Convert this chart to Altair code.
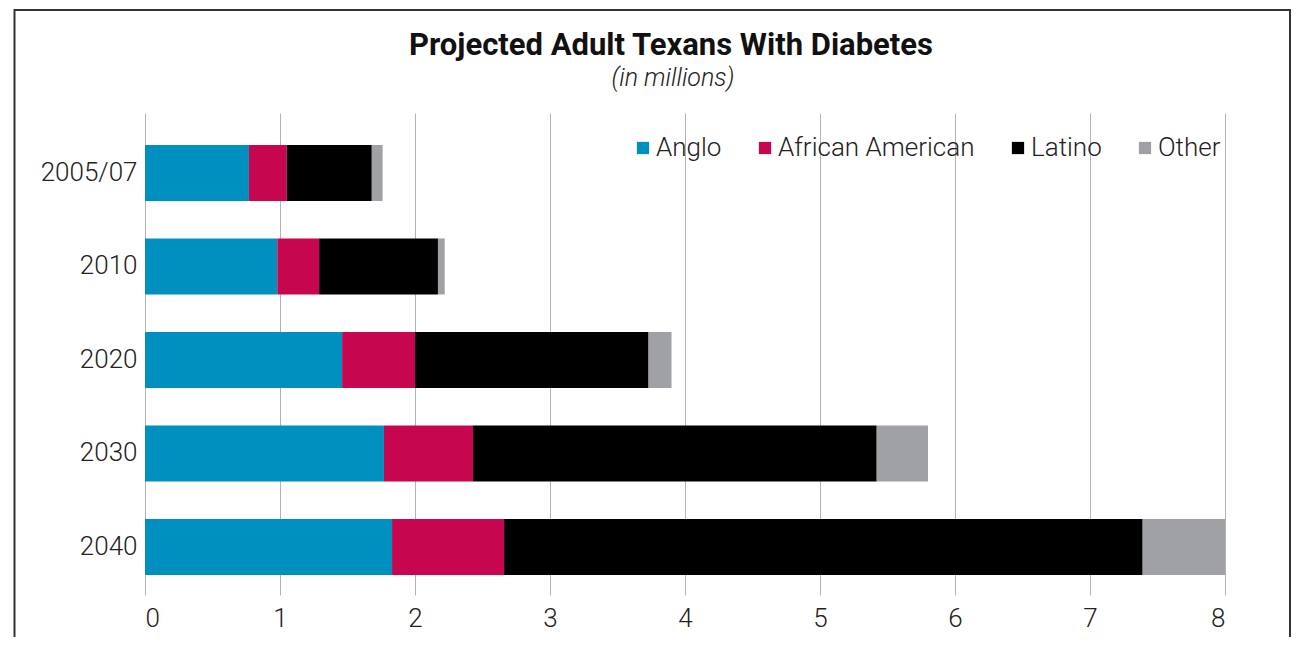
import altair as alt
import pandas as pd

years = ["2005/07", "2010", "2020", "2030", "2040"]
groups = ["Anglo", "African American", "Latino", "Other"]
colors = ["#0090c0", "#c6074f", "#000000", "#a0a1a5"]
anglo = [0.77, 0.98, 1.46, 1.77, 1.83]
african_american = [0.28, 0.31, 0.54, 0.66, 0.83]
latino = [0.63, 0.88, 1.73, 2.99, 4.73]
other = [0.08, 0.05, 0.17, 0.38, 0.61]
title_text = "Projected Adult Texans With Diabetes"
subtitle_text = "(in millions)"

series = [anglo, african_american, latino, other]
rows = []
for gi, (g, vals) in enumerate(zip(groups, series)):
    for y, v in zip(years, vals):
        rows.append({"year": y, "group": g, "value": v, "order": gi})
df = pd.DataFrame(rows)

FONT = "Roboto"

bars = alt.Chart(df).mark_bar().encode(
    x=alt.X("value:Q", scale=alt.Scale(domain=[0, 8], nice=False),
            axis=alt.Axis(title=None, values=[0, 1, 2, 3, 4, 5, 6, 7, 8], grid=True,
                          gridColor="#b3b3b3", gridWidth=1, domain=False, ticks=False,
                          labelFontSize=26, labelFont=FONT, labelColor="#222222",
                          labelPadding=10, labelFontWeight=300)),
    y=alt.Y("year:N", sort=years,
            scale=alt.Scale(paddingInner=0.401, paddingOuter=0.278, align=0.615),
            axis=alt.Axis(title=None, domain=False, ticks=False, labelFontSize=26,
                          labelFont=FONT, labelColor="#222222", labelPadding=8,
                          labelFontWeight=300)),
    color=alt.Color("group:N", sort=groups,
                    scale=alt.Scale(domain=groups, range=colors),
                    legend=alt.Legend(title=None, orient="none", legendX=485, legendY=22,
                                      direction="horizontal", symbolType="square",
                                      symbolSize=150, symbolStrokeWidth=0,
                                      labelFontSize=26, labelFont=FONT, labelLimit=400,
                                      labelColor="#222222", labelFontWeight=300,
                                      columnPadding=30, labelOffset=0)),
    order=alt.Order("order:Q", sort="ascending"),
)

frame = alt.Chart(pd.DataFrame({"k": [0]})).mark_rect(
    fill=None, stroke="#333333", strokeWidth=2, clip=False
).encode(
    x=alt.value(-130.5), x2=alt.value(1145),
    y=alt.value(-103), y2=alt.value(620),
)

title = alt.Chart(pd.DataFrame({"t": [title_text]})).mark_text(
    font=FONT, fontSize=31, fontWeight="bold", color="#111111",
    align="center", baseline="alphabetic", clip=False
).encode(text="t:N", x=alt.value(526), y=alt.value(-58))

subtitle = alt.Chart(pd.DataFrame({"t": [subtitle_text]})).mark_text(
    font=FONT, fontSize=25, fontStyle="italic", fontWeight=300, color="#222222",
    align="center", baseline="alphabetic", clip=False
).encode(text="t:N", x=alt.value(528), y=alt.value(-27))

chart = alt.layer(frame, bars, title, subtitle).properties(
    width=1080, height=482,
    autosize=alt.AutoSizeParams(type="none"),
    padding={"left": 137, "top": 105, "right": 66, "bottom": 42},
).configure_view(stroke=None)

chart.save("out.html", embed_options={"renderer": "svg", "actions": False})
